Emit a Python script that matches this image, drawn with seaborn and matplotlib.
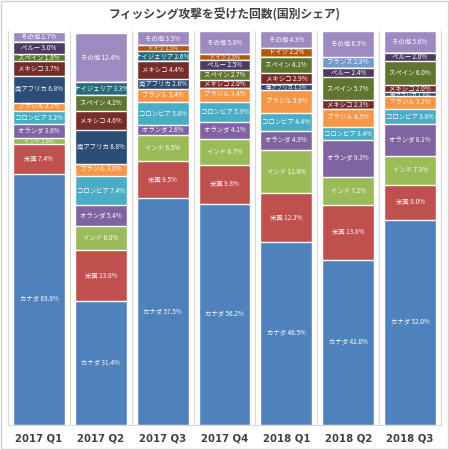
import numpy as np
import pandas as pd
import matplotlib
matplotlib.use('Agg')
import matplotlib.pyplot as plt
import seaborn as sns

sns.set_style('white')
plt.rcParams['font.family'] = ['Noto Sans CJK JP', 'DejaVu Sans']

quarters = ['2017 Q1', '2017 Q2', '2017 Q3', '2017 Q4', '2018 Q1', '2018 Q2', '2018 Q3']

# share per country (%), bottom to top of the stack; 0 = not shown that quarter
canada = [63.8, 31.4, 57.5, 56.2, 46.5, 42.0, 52.0]
usa = [7.4, 13.0, 9.5, 9.8, 12.3, 13.8, 9.0]
india = [1.6, 6.0, 6.5, 6.7, 11.0, 7.2, 7.3]
netherlands = [3.6, 5.4, 2.6, 4.1, 4.9, 9.3, 8.1]
colombia = [3.2, 7.4, 5.8, 5.3, 4.4, 3.4, 3.8]
brazil = [2.2, 3.0, 3.4, 3.4, 5.9, 4.5, 3.2]
south_africa = [6.8, 8.8, 2.6, 0, 1.5, 0, 1.0]
mexico = [3.7, 4.6, 4.4, 2.0, 2.9, 2.3, 2.0]
spain = [1.8, 4.2, 0, 2.7, 4.1, 5.7, 6.0]
peru = [3.0, 0, 0, 2.5, 0, 2.4, 2.0]
nigeria = [0, 3.3, 2.6, 0, 0, 0, 0]
germany = [0, 0, 1.5, 1.5, 2.2, 0, 0]
france = [0, 0, 0, 0, 0, 2.9, 0]
other = [2.7, 12.4, 3.5, 5.8, 4.3, 6.5, 5.6]

countries = ['カナダ', '米国', 'インド', 'オランダ', 'コロンビア', 'ブラジル', '南アフリカ',
             'メキシコ', 'スペイン', 'ペルー', 'ナイジェリア', 'ドイツ', 'フランス', 'その他']
series = [canada, usa, india, netherlands, colombia, brazil, south_africa,
          mexico, spain, peru, nigeria, germany, france, other]
colors = ['#4f81bd', '#c0504d', '#9bbb59', '#8064a2', '#4bacc6', '#f79646', '#2c4d75',
          '#772c2a', '#5f7530', '#4d3b62', '#276a7c', '#b65708', '#729aca', '#9d8ac1']

df = pd.DataFrame(dict(zip(countries, series)), index=quarters)
cum = df.cumsum(axis=1)

fig = plt.figure(figsize=(4.49, 4.50), dpi=100)
ax = fig.add_axes([8 / 449, 25 / 450, 433 / 449, 394 / 450])

# draw cumulative totals from the top layer down so lower layers cover upper ones
for name, color in reversed(list(zip(countries, colors))):
    d = pd.DataFrame({'q': quarters, 'v': cum[name].values})
    sns.barplot(data=d, x='q', y='v', color=color, width=0.84, saturation=1,
                ax=ax, zorder=2)

for i, q in enumerate(quarters):
    for name in countries:
        v = df.loc[q, name]
        if v <= 0:
            continue
        mid = cum.loc[q, name] - v / 2
        fs = 4.6 if v >= 1.7 else 3.9
        ax.text(i, mid, f'{name} {v:.1f}%', ha='center', va='center',
                color='white', fontsize=fs, zorder=3)

ax.set_xlim(-0.5, 6.5)
ax.set_ylim(0, 100)
ax.set_xlabel('')
ax.set_ylabel('')
ax.set_yticks([])
ax.set_xticks(range(7))
ax.set_xticklabels(quarters, fontsize=7.3, fontweight='bold', color='#404040',
                   family=['DejaVu Sans'])
ax.tick_params(axis='x', length=0, pad=6)
ax.set_xticks(np.arange(-0.5, 7, 1), minor=True)
ax.grid(axis='x', which='minor', color='#d9d9d9', lw=0.8, zorder=0)
ax.tick_params(axis='x', which='minor', length=0)
for s in ['left', 'right', 'bottom']:
    ax.spines[s].set_color('#d9d9d9')
ax.spines['top'].set_visible(False)

fig.text(0.5, 1 - 15 / 450, 'フィッシング攻撃を受けた回数(国別シェア)', ha='center', va='center',
         fontsize=8.5, fontweight='bold', color='#404040')

fig.patches.append(plt.Rectangle((0.002, 0.002), 0.996, 0.996, transform=fig.transFigure,
                                 fill=False, edgecolor='#d0d0d0', lw=1))

fig.savefig('out.png', dpi=100)
